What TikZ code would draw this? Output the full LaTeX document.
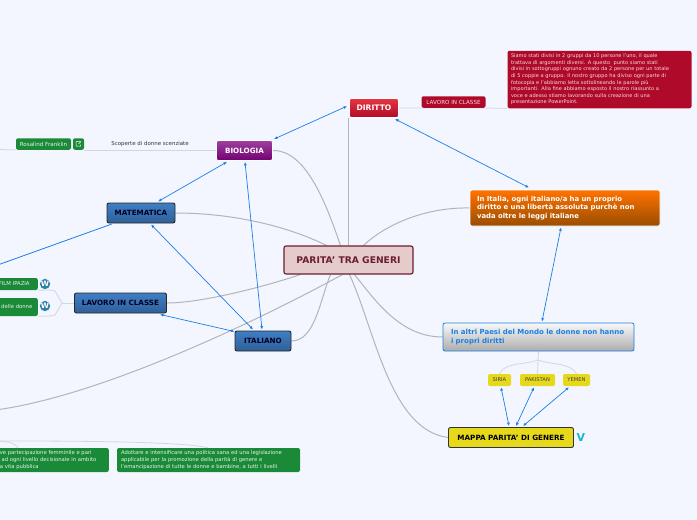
\documentclass[tikz,border=0pt]{standalone}
\usepackage{fontspec}
\setmainfont{DejaVu Sans}
\usetikzlibrary{backgrounds,arrows.meta,positioning}
\definecolor{bgc}{HTML}{F3F6FF}
\definecolor{linkc}{HTML}{1A7FE6}
\definecolor{stemc}{HTML}{B4B4B8}
\definecolor{stemlight}{HTML}{D4D6DE}
\definecolor{gfill}{HTML}{1B8A38}
\definecolor{redc}{HTML}{B00A2A}
\definecolor{bluetop}{HTML}{3F7FC4}
\definecolor{bluebot}{HTML}{2F5F98}
\definecolor{yelc}{HTML}{E6D81A}
\definecolor{wine}{HTML}{6B1E30}
\definecolor{wpblue}{HTML}{2E7FA8}
\tikzset{
 x=1pt,y=-1pt,
 box/.style={rectangle,rounded corners=2pt,inner sep=0pt,anchor=center,align=center},
 mainbox/.style={box,font=\bfseries\fontsize{7.2}{8.5}\selectfont},
 bluebox/.style={mainbox,draw=black!85,line width=0.9pt,top color=bluetop,bottom color=bluebot,text=black!85!blue},
 smalltxt/.style={font=\fontsize{5.6}{6.6}\selectfont,text=white!90!gfill},
 greenbox/.style={box,fill=gfill,smalltxt},
 redbox/.style={box,fill=redc,smalltxt,text=white!85!redc},
 yellowtag/.style={box,fill=yelc,font=\fontsize{5.2}{6}\selectfont,text=black!75},
 stem/.style={draw=stemc,line width=1pt},
 twig/.style={draw=stemlight,line width=0.8pt},
 rel/.style={draw=linkc,line width=0.7pt,{Latex[length=3.5pt,width=3pt]}-{Latex[length=3.5pt,width=3pt]}},
 wp/.style={circle,fill=wpblue,draw=white,line width=0.4pt,inner sep=0pt,minimum size=11pt,font=\bfseries\fontsize{7.5}{6}\selectfont,text=white},
}
\begin{document}
\begin{tikzpicture}
\useasboundingbox (0,0) rectangle (697,520);
\clip (0,0) rectangle (697,520);
\node[box,draw=wine,line width=1.1pt,fill=red!35!gray!30!white,minimum width=129pt,minimum height=28pt,text=wine,font=\bfseries\fontsize{9.2}{10}\selectfont] (central) at (348.5,260) {PARITA' TRA GENERI};
\node[mainbox,draw=white,line width=0.8pt,top color=red!60!redc!80!white,bottom color=redc,text=white,minimum width=49pt,minimum height=19pt,font=\bfseries\fontsize{7.6}{9}\selectfont] (diritto) at (374,108) {DIRITTO};
\node[redbox,minimum width=64pt,minimum height=11.5pt] (lavred) at (453.5,102) {LAVORO IN CLASSE};
\node[redbox,align=left,font=\fontsize{5.05}{6.6}\selectfont,text width=177pt,inner xsep=3.5pt,minimum width=184pt,minimum height=57.5pt] (redtext) at (599.5,79.5) {Siamo stati divisi in 2 gruppi da 10 persone l'uno, il quale\\trattava di argomenti diversi. A questo\ \ punto siamo stati\\divisi in sottogruppi ognuno creato da 2 persone per un totale\\di 5 coppie a gruppo. Il nostro gruppo ha diviso ogni parte di\\fotocopia e l'abbiamo letta sottolineando le parole più\\importanti. Alla fine abbiamo esposto il nostro riassunto a\\voce e adesso stiamo lavorando sulla creazione di una\\presentazione PowerPoint.};
\node[mainbox,draw=white,line width=0.8pt,top color=violet!75!white,bottom color=violet!90!black,text=white,minimum width=56pt,minimum height=20pt] (bio) at (244.5,150.5) {BIOLOGIA};
\node[greenbox,minimum width=55pt,minimum height=11.5pt] (rosalind) at (43.5,144) {Rosalind Franklin};
\node[box,fill=gfill,minimum width=11pt,minimum height=11.5pt] (extlink) at (78.5,144) {};
\draw[white,line width=0.5pt] ([shift={(1.5,-1)}]extlink.center) -- ++(0,-1.5) -- ++(-4,0) -- ++(0,4.5) -- ++(4.5,0) -- ++(0,-1.5) (extlink.center) -- ++(2.5,-2.5);
\node[font=\fontsize{5.45}{6}\selectfont,text=black!80,inner sep=0pt] (scoperte) at (150,144) {Scoperte di donne scenziate};
\node[bluebox,minimum width=68pt,minimum height=20pt] (mate) at (141,213) {MATEMATICA};
\node[bluebox,minimum width=92pt,minimum height=20pt] (lavblue) at (120.5,303) {LAVORO IN CLASSE};
\node[bluebox,minimum width=56pt,minimum height=20pt] (ital) at (263,341) {ITALIANO};
\node[mainbox,draw=white,line width=0.7pt,top color=orange!90!red,bottom color=orange!60!black,text=white,align=left,font=\bfseries\fontsize{6.9}{8.5}\selectfont,text width=176pt,inner xsep=7pt,minimum width=190pt,minimum height=36pt] (orangeb) at (565,208) {In Italia, ogni italiano/a ha un proprio\\diritto e una libertà assoluta purchè non\\vada oltre le leggi italiane};
\node[mainbox,draw=linkc,line width=0.8pt,top color=white!95!gray,bottom color=gray!65,text=linkc,align=left,font=\bfseries\fontsize{7}{8.5}\selectfont,text width=175pt,inner xsep=8pt,minimum width=191pt,minimum height=28pt] (greyb) at (538.5,337) {In altri Paesi del Mondo le donne non hanno\\i propri diritti};
\node[yellowtag,minimum width=23pt,minimum height=12pt] (siria) at (499.5,380) {SIRIA};
\node[yellowtag,minimum width=35pt,minimum height=12pt] (pak) at (537.5,380) {PAKISTAN};
\node[yellowtag,minimum width=27pt,minimum height=12pt] (yemen) at (576.5,380) {YEMEN};
\node[mainbox,draw=black!80,line width=0.9pt,fill=yelc,text=black,minimum width=125pt,minimum height=20pt] (mappa) at (511,437.5) {MAPPA PARITA' DI GENERE};
\node[text=cyan!80!green!90!white,font=\bfseries\fontsize{11}{11}\selectfont,inner sep=0pt] (vmark) at (581,437) {V};
\node[greenbox,anchor=east,minimum width=42pt,minimum height=12pt,text width=36pt,inner xsep=3pt,align=left,font=\fontsize{5.3}{6.6}\selectfont] (film) at (38,284) {FILM IPAZIA};
\node[greenbox,anchor=east,minimum width=42pt,minimum height=18pt,font=\fontsize{5.3}{6.6}\selectfont] (delle) at (38,307) {delle donne};
\node[wp] (wpa) at (45,284) {W};
\node[wp] (wpb) at (45,306) {W};
\node[greenbox,anchor=east,align=left,font=\fontsize{5.25}{6.6}\selectfont,text width=106pt,inner xsep=3pt,minimum width=112pt,minimum height=24pt] (gleft) at (109,460) {ve partecipazione femminile e pari\\\ ad ogni livello decisionale in ambito\\a vita pubblica};
\node[greenbox,align=left,font=\fontsize{5.25}{6.6}\selectfont,text width=175pt,inner xsep=4pt,minimum width=183pt,minimum height=24pt] (gright) at (208.5,460) {Adottare e intensificare una politica sana ed una legislazione\\applicabile per la promozione della parità di genere e\\l'emancipazione di tutte le donne e bambine, a tutti i livelli};
\coordinate (offblue) at (-1,264.5);
\coordinate (offstem) at (-1,409.5);
\coordinate (offrosa) at (-1,149.5);
\coordinate (offgreen) at (-1,441);
\coordinate (forkL) at (62,303);
\coordinate (forkG) at (538,360);

\begin{scope}[on background layer]
\fill[bgc] (0,0) rectangle (697,520);
\draw[stem] (bio.east) .. controls (305,150) and (325,200) .. ([xshift=-8]central.north);
\draw[stem] (mate.east) .. controls (230,213) and (285,225) .. ([xshift=-22]central.north);
\draw[stem] (central.north |- diritto.south) -- (central.north);
\draw[stem] (orangeb.west) .. controls (425,207) and (385,225) .. ([xshift=15]central.north);
\draw[stem] (greyb.west) .. controls (400,337) and (375,300) .. ([xshift=6]central.south);
\draw[stem] (mappa.west) .. controls (390,430) and (375,330) .. ([xshift=1]central.south);
\draw[stem] (ital.east) .. controls (315,341) and (320,300) .. ([xshift=-18]central.south);
\draw[stem] (lavblue.east) .. controls (200,303) and (260,288) .. ([xshift=-48]central.south);
\draw[stem] (offstem) .. controls (100,395) and (250,325) .. ([xshift=-6]central.south);
\draw[twig] (extlink.south east) -- (bio.west |- extlink.south east);
\draw[twig] (rosalind.south west) -- (offrosa);
\draw[twig] (diritto.east) -- (lavred.south west) -- (lavred.south east) -- (redtext.south west);
\draw[twig] (greyb.south) -- (forkG);
\draw[twig] (forkG) -- (pak.north);
\draw[twig] (forkG) .. controls (525,365) and (505,362) .. (siria.north);
\draw[twig] (forkG) .. controls (550,365) and (570,362) .. (yemen.north);
\draw[twig] (lavblue.west) -- (forkL);
\draw[twig] (forkL) -- (55,291) -- (50,290) -- (film.south east);
\draw[twig] (forkL) -- (55,315) -- (50,316) -- (delle.south east);
\draw[twig] (offgreen) .. controls (10,442) and (15,443) .. (gleft.north -| 18,448);
\draw[twig] (offgreen) .. controls (60,441) and (180,441) .. (gright.north);
\end{scope}
\draw[rel] ([shift={(1,-1)}]bio.north east) -- ([shift={(-2,8)}]diritto.north west);
\draw[rel] ([shift={(-17.5,1)}]bio.south) -- ([shift={(17,-1)}]mate.north);
\draw[rel] ([shift={(0.5,1)}]bio.south) -- ([shift={(-1,-1)}]ital.north);
\draw[rel] ([shift={(10,1)}]mate.south) -- ([shift={(-10,-1)}]ital.north);
\draw[draw=linkc,line width=0.8pt] ([shift={(-29,0.5)}]mate.south) -- (offblue);
\draw[rel] ([shift={(39.5,1)}]lavblue.south) -- ([shift={(0,1)}]ital.north west);
\draw[rel] ([shift={(-4,1)}]diritto.south east) -- ([shift={(-36,-2)}]orangeb.north);
\draw[rel] ([shift={(-4,1)}]orangeb.south) -- ([shift={(3.5,-1)}]greyb.north);
\draw[rel] ([shift={(1.5,1)}]siria.south) -- ([shift={(-2,-1)}]mappa.north);
\draw[rel] ([shift={(-3.5,1)}]pak.south) -- ([shift={(5,-1)}]mappa.north);
\draw[rel] ([shift={(-7.5,1)}]yemen.south) -- ([shift={(12,-1)}]mappa.north);
\end{tikzpicture}
\end{document}
